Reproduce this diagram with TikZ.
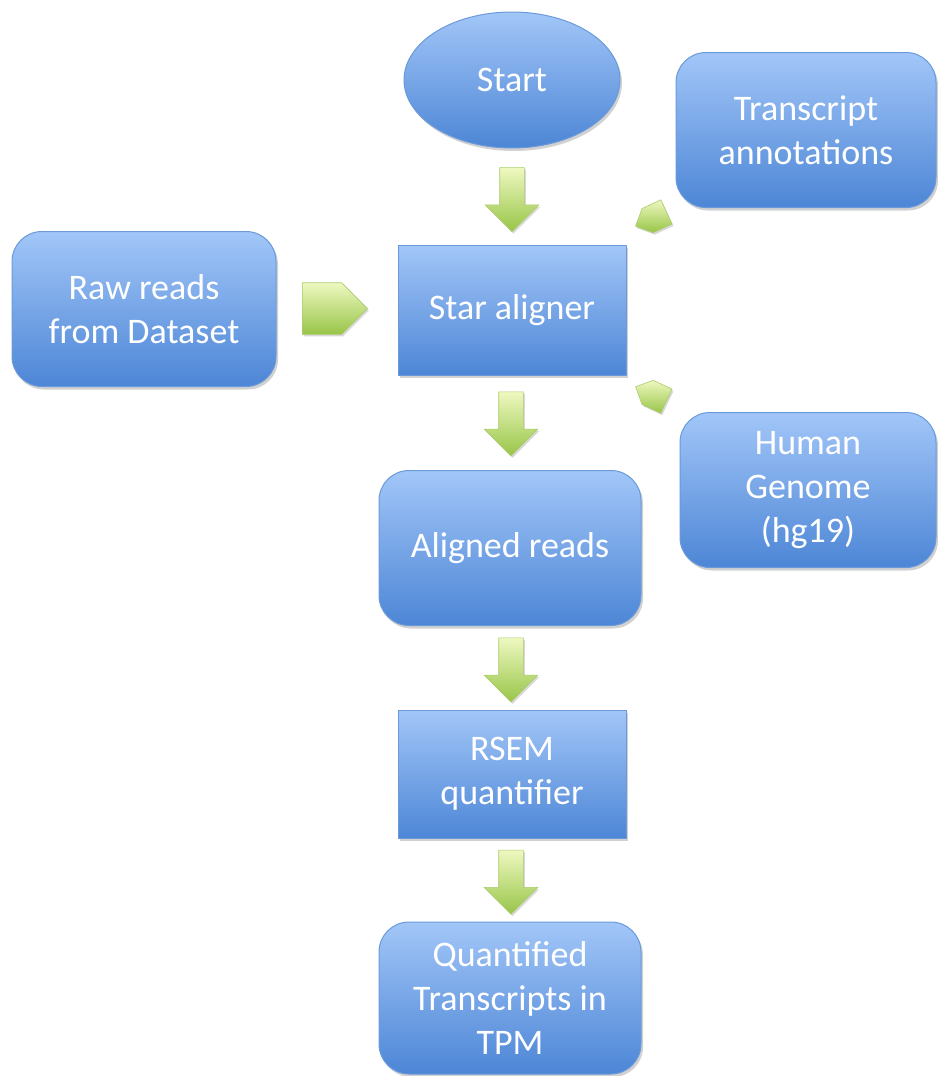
\documentclass[tikz,border=0pt]{standalone}
\usepackage{fontspec}
\setmainfont{Carlito}
\usetikzlibrary{shapes.geometric,shapes.arrows,shadows,calc}
\definecolor{boxtop}{HTML}{A2C6F8}
\definecolor{boxbot}{HTML}{4D86D6}
\definecolor{boxline}{HTML}{6A9ADA}
\definecolor{arrtop}{HTML}{EEF8C0}
\definecolor{arrbot}{HTML}{98C548}
\definecolor{arrline}{HTML}{A9CC6A}
\tikzset{
  base/.style={draw=boxline, line width=1pt, top color=boxtop, bottom color=boxbot,
    text=white, align=center, font=\fontsize{36}{44}\selectfont,
    drop shadow={shadow xshift=2pt, shadow yshift=-3pt, opacity=0.3, fill=black!60}},
  rbox/.style={base, rectangle, rounded corners=30pt, minimum width=#1, minimum height=155pt, inner sep=0pt},
  sbox/.style={base, rectangle, minimum width=228pt, minimum height=130pt, inner sep=0pt},
  oval/.style={base, ellipse, minimum width=216pt, minimum height=136pt, inner sep=0pt},
  garrow/.style={single arrow, draw=arrline, line width=0.6pt, top color=arrtop, bottom color=arrbot,
    drop shadow={shadow xshift=1.5pt, shadow yshift=-2pt, opacity=0.25, fill=black!60}},
  downarrow/.style={garrow, shape border rotate=270, inner sep=12pt, minimum height=64pt, minimum width=53pt,
    single arrow head extend=14.5pt},
  homeplate/.style={garrow, single arrow head extend=0pt, inner xsep=0pt, inner ysep=#1/2, minimum width=#1},
}
\begin{document}
\begin{tikzpicture}[x=1pt,y=1pt]
\useasboundingbox (0,0) rectangle (937,-1076);
\node[oval] (start) at (512,-80) {Start};
\node[rbox=260pt] (trans) at (806,-130) {Transcript\\annotations};
\node[rbox=264pt] (raw) at (144,-309) {Raw reads\\from Dataset};
\node[sbox] (star) at (512,-310) {Star aligner};
\node[rbox=256pt] (genome) at (808,-490) {Human\\Genome\\(hg19)};
\node[rbox=262pt] (aligned) at (510,-548) {Aligned reads};
\node[sbox, minimum height=128pt] (rsem) at (512,-774) {RSEM\\quantifier};
\node[rbox=262pt, minimum height=152pt] (quant) at (510,-998) {Quantified\\Transcripts in\\TPM};

\node[downarrow] (a1) at ($(start.south)!0.5!(star.north)+(0,3)$) {};
\node[downarrow] (a2) at ($(star.south)!0.5!(aligned.north)+(0,5)$) {};
\node[downarrow] (a3) at ($(aligned.south)!0.5!(rsem.north)+(0,4)$) {};
\node[downarrow] (a4) at ($(rsem.south)!0.5!(quant.north)+(0,4)$) {};
\node[homeplate=51pt, minimum height=65pt] (a5) at ($(raw.east)!0.5!(star.west)+(-15,1)$) {};
\node[homeplate=26pt, minimum height=34pt, rotate=-155] (a6) at ($(trans.south west)!0.5!(star.north east)+(6,10)$) {};
\node[homeplate=26pt, minimum height=34pt, rotate=155] (a7) at ($(genome.north west)!0.5!(star.south east)+(4,-3)$) {};
\end{tikzpicture}
\end{document}
